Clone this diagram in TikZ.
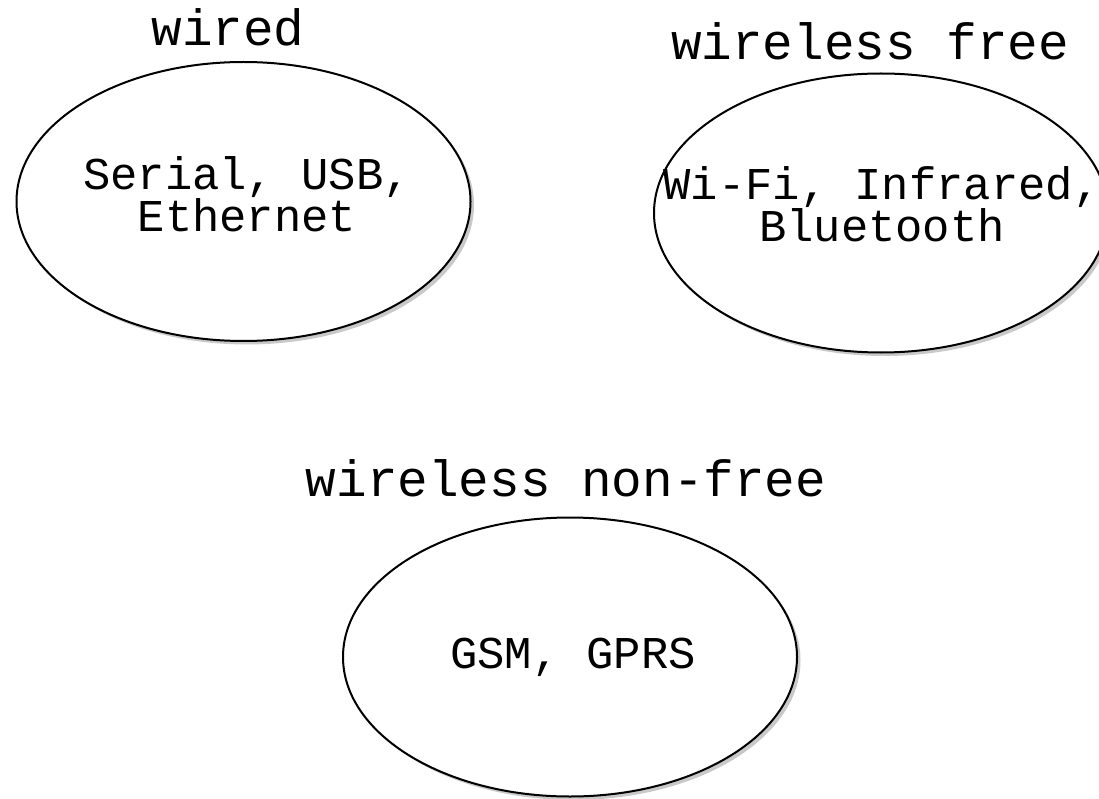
\documentclass[tikz,border=0pt]{standalone}
\usepackage{fontspec}
\setmonofont{Liberation Mono}
\usetikzlibrary{shapes.geometric,shadows}
\tikzset{
  oval/.style={ellipse, draw=black, line width=2pt, fill=white, minimum width=454pt, minimum height=279pt, inner sep=0pt,
    drop shadow={shadow xshift=3.5pt, shadow yshift=-3.5pt, opacity=0.35, fill=black!60}},
  title/.style={anchor=base, inner sep=0pt, font=\ttfamily\fontsize{51pt}{51pt}\selectfont},
  body/.style={anchor=base, inner sep=0pt, align=center, font=\ttfamily\fontsize{45.5pt}{40pt}\selectfont}
}
\begin{document}
\begin{tikzpicture}[x=1pt, y=-1pt]
\clip (0,0) rectangle (1099,799);
\fill[white] (0,0) rectangle (1099,799);
\node[oval] (wired) at (243.5,201.5) {};
\node[oval] (free) at (881,213) {};
\node[oval] (nonfree) at (570,657) {};
\node[title] (twired) at (228,46) {wired};
\node[title] (tfree) at (870,60) {wireless free};
\node[title] (tnonfree) at (566,496) {wireless non-free};
\node[body] (bwired) at (247,232) {Serial, USB,\\Ethernet};
\node[body] (bfree) at (882,242) {Wi-Fi, Infrared,\\Bluetooth};
\node[body] (bnonfree) at (573,668) {GSM, GPRS};
\end{tikzpicture}
\end{document}
